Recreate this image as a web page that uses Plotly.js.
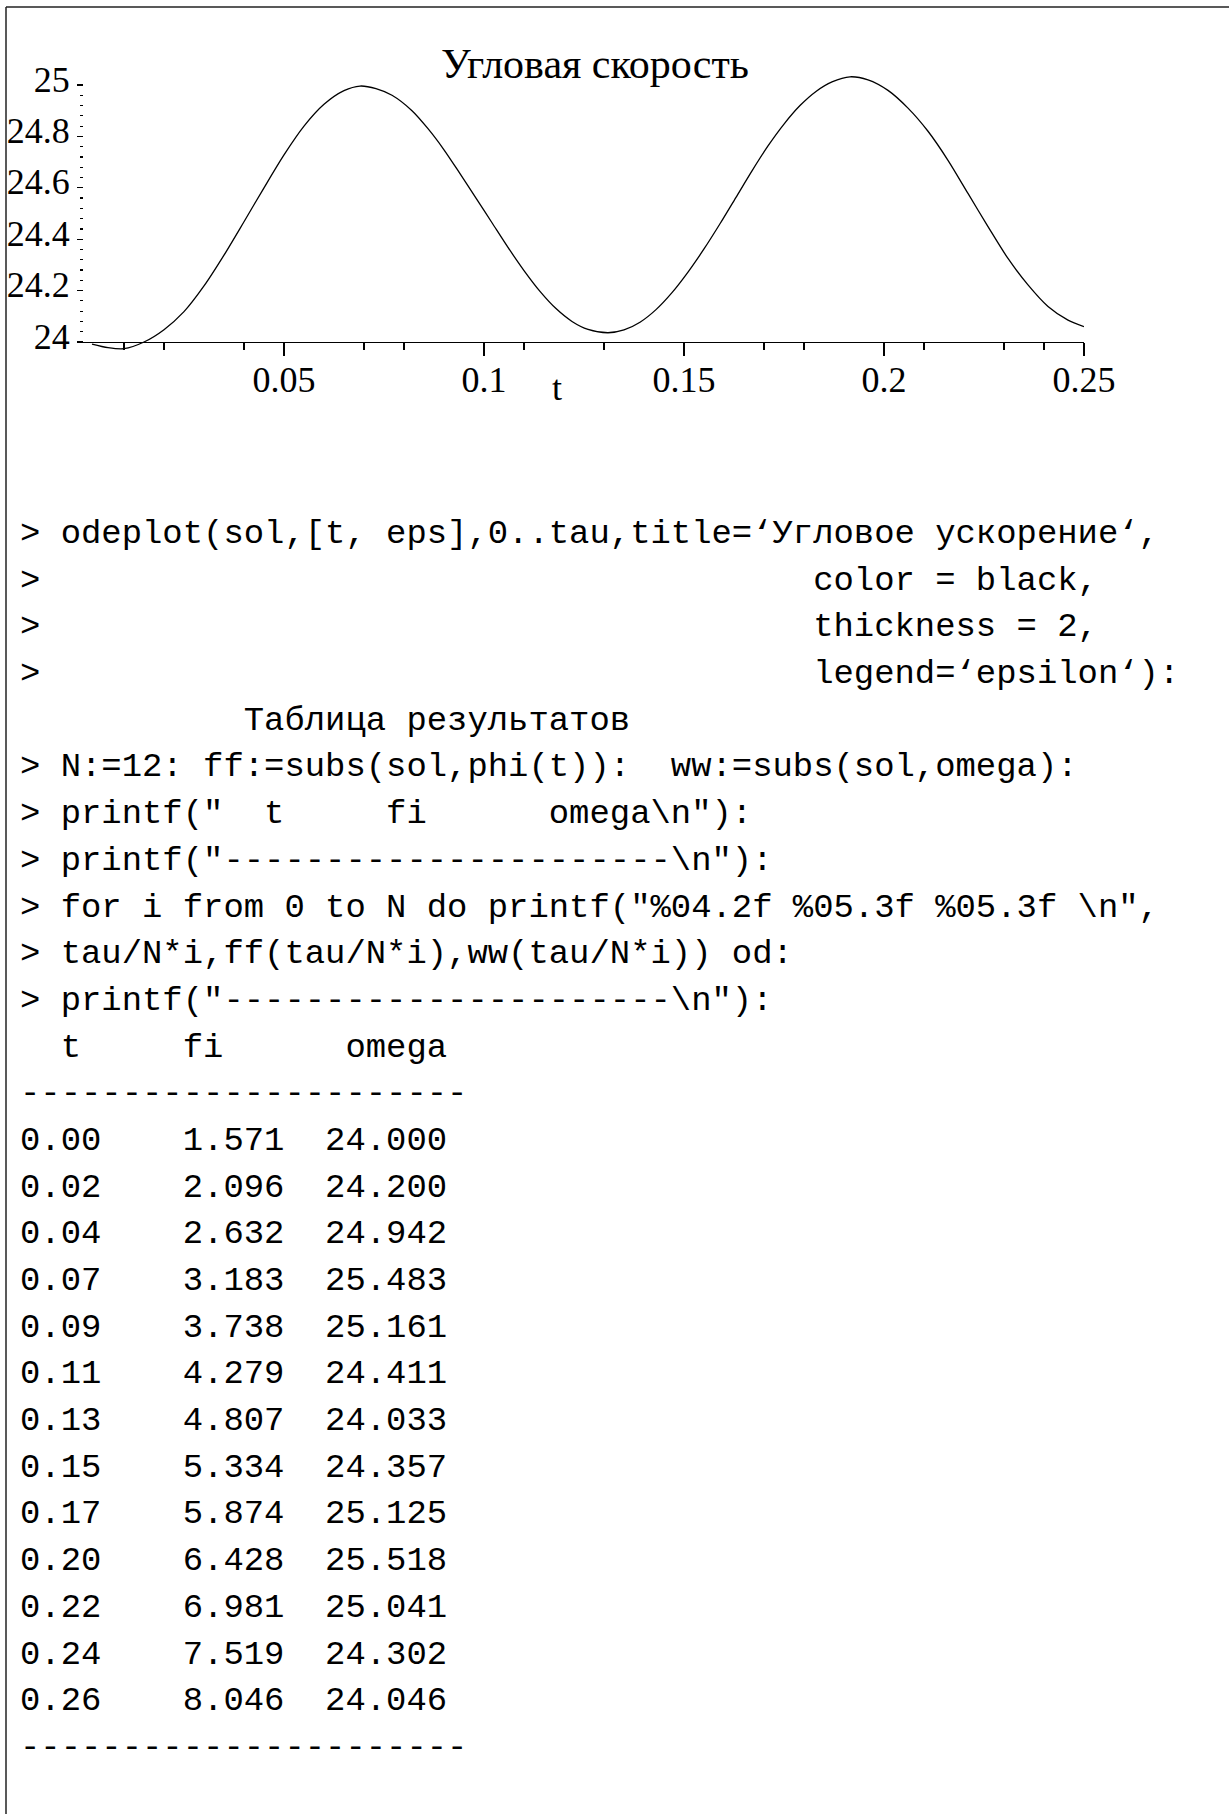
<!DOCTYPE html>
<html>
<head>
<meta charset="utf-8">
<script src="https://cdn.plot.ly/plotly-3.0.1.min.js"></script>
<style>
  html, body { margin: 0; padding: 0; background: #ffffff; }
  #chart { width: 1229px; height: 1814px; }
</style>
</head>
<body>
<div id="chart"></div>
<script>
// ---------- curve data ----------
const tValues = [0.002, 0.006, 0.010, 0.015, 0.020, 0.025, 0.030, 0.035, 0.040, 0.045,
  0.050, 0.055, 0.060, 0.065, 0.069, 0.073, 0.077, 0.082, 0.086, 0.090,
  0.094, 0.098, 0.102, 0.106, 0.110, 0.114, 0.118, 0.122, 0.126, 0.131,
  0.135, 0.139, 0.143, 0.147, 0.151, 0.155, 0.159, 0.163, 0.167, 0.171,
  0.175, 0.179, 0.183, 0.187, 0.1915, 0.196, 0.201, 0.206, 0.211, 0.216,
  0.221, 0.226, 0.231, 0.236, 0.241, 0.246, 0.250];
const omegaValues = [23.992, 23.978, 23.974, 24.000, 24.048, 24.118, 24.218, 24.338, 24.468, 24.600,
  24.728, 24.840, 24.925, 24.978, 24.996, 24.986, 24.960, 24.900, 24.830, 24.748,
  24.655, 24.560, 24.464, 24.368, 24.278, 24.197, 24.130, 24.080, 24.049, 24.036,
  24.047, 24.077, 24.126, 24.192, 24.272, 24.362, 24.460, 24.563, 24.666, 24.763,
  24.848, 24.920, 24.975, 25.012, 25.032, 25.020, 24.979, 24.910, 24.820, 24.707,
  24.578, 24.449, 24.325, 24.222, 24.138, 24.085, 24.060];

// ---------- axis ticks ----------
const xTickVals = [0.05, 0.1, 0.15, 0.2, 0.25];
const xTickText = ['0.05', '0.1', '0.15', '0.2', '0.25'];
const xMinorTicks = [0.01, 0.02, 0.04, 0.07, 0.08, 0.11, 0.13, 0.17, 0.18, 0.21, 0.23, 0.24];
const yTickVals = [24, 24.2, 24.4, 24.6, 24.8, 25];
const yTickText = ['24', '24.2', '24.4', '24.6', '24.8', '25'];

// ---------- worksheet text ----------
const plotTitle = 'Угловая скорость';
const xAxisLabel = 't';
const codeLines = [
  '> odeplot(sol,[t, eps],0..tau,title=‘Угловое ускорение‘,',
  '>                                      color = black,',
  '>                                      thickness = 2,',
  '>                                      legend=‘epsilon‘):',
  '           Таблица результатов',
  '> N:=12: ff:=subs(sol,phi(t)):  ww:=subs(sol,omega):',
  '> printf("  t     fi      omega\\n"):',
  '> printf("----------------------\\n"):',
  '> for i from 0 to N do printf("%04.2f %05.3f %05.3f \\n",',
  '> tau/N*i,ff(tau/N*i),ww(tau/N*i)) od:',
  '> printf("----------------------\\n"):'
];
const tableHeader = '  t     fi      omega';
const tableRule = '----------------------';
const tCol = ['0.00','0.02','0.04','0.07','0.09','0.11','0.13','0.15','0.17','0.20','0.22','0.24','0.26'];
const fiCol = ['1.571','2.096','2.632','3.183','3.738','4.279','4.807','5.334','5.874','6.428','6.981','7.519','8.046'];
const omegaCol = ['24.000','24.200','24.942','25.483','25.161','24.411','24.033','24.357','25.125','25.518','25.041','24.302','24.046'];

// ---------- layout geometry (pixels) ----------
const W = 1229, H = 1814;
const px = v => v / W;
const py = v => 1 - v / H;

const allLines = codeLines.concat([tableHeader, tableRule]);
for (let i = 0; i < tCol.length; i++) {
  allLines.push(tCol[i] + '    ' + fiCol[i] + '  ' + omegaCol[i]);
}
allLines.push(tableRule);

const monoFont = {family: '"Liberation Mono", "Courier New", monospace', size: 33.9, color: '#000000'};
const serifFont = {family: '"Liberation Serif", "Times New Roman", serif', size: 36, color: '#000000'};

const annotations = allLines.map((s, i) => ({
  xref: 'paper', yref: 'paper',
  x: px(18), y: py(534 + i * 46.69),
  xanchor: 'left', yanchor: 'middle',
  text: s.replace(/ /g, '\u00A0'),
  showarrow: false,
  font: monoFont
}));
annotations.push({
  xref: 'paper', yref: 'paper', x: px(557), y: py(388),
  xanchor: 'center', yanchor: 'middle', text: xAxisLabel,
  showarrow: false, font: serifFont
});

const trace = {
  x: tValues, y: omegaValues, type: 'scatter', mode: 'lines',
  line: {color: '#000000', width: 1.3, shape: 'spline', smoothing: 0.8},
  hoverinfo: 'skip', showlegend: false
};

// y minor ticks: dotted axis between 24 and 25 every 0.04
const yMinorTicks = [];
for (let k = 1; k < 25; k++) { if (k % 5 !== 0) yMinorTicks.push(+(24 + k * 0.04).toFixed(2)); }

const x0px = 77, x1px = 1084;
const tAt = p => (p - 84) / 4000;
const yTop = 60, yBot = 360;
const omAt = p => 24 + (342 - p) / 257;

const layout = {
  width: W, height: H,
  margin: {l: 0, r: 0, t: 0, b: 0},
  paper_bgcolor: '#ffffff', plot_bgcolor: '#ffffff',
  showlegend: false,
  title: {
    text: plotTitle, xref: 'paper', yref: 'paper',
    x: px(595), xanchor: 'center', y: py(63), yanchor: 'middle',
    font: {family: '"Liberation Serif", "Times New Roman", serif', size: 42, color: '#000000'}
  },
  xaxis: {
    domain: [px(x0px), px(x1px)],
    range: [tAt(x0px), tAt(x1px)],
    anchor: 'free', position: py(342),
    showline: true, linecolor: '#000000', linewidth: 1.2,
    showgrid: false, zeroline: false,
    ticks: 'outside', ticklen: 13, tickwidth: 1.2, tickcolor: '#000000',
    tickmode: 'array', tickvals: xTickVals, ticktext: xTickText,
    tickfont: serifFont, ticklabelstandoff: -7,
    minor: {tickmode: 'array', tickvals: xMinorTicks, ticks: 'outside', ticklen: 7,
            tickwidth: 1.2, tickcolor: '#000000', showgrid: false}
  },
  yaxis: {
    domain: [py(yBot), py(yTop)],
    range: [omAt(yBot), omAt(yTop)],
    anchor: 'free', position: px(83),
    showline: false, showgrid: false, zeroline: false,
    ticks: 'outside', ticklen: 6, tickwidth: 1.2, tickcolor: '#000000',
    tickmode: 'array', tickvals: yTickVals, ticktext: yTickText,
    tickfont: serifFont, ticklabelshift: -6,
    minor: {tickmode: 'array', tickvals: yMinorTicks, ticks: 'outside', ticklen: 3,
            tickwidth: 1.2, tickcolor: '#000000', showgrid: false}
  },
  annotations: annotations,
  shapes: [
    {type: 'line', xref: 'paper', yref: 'paper', x0: px(6), x1: px(6), y0: 0, y1: py(7),
     line: {color: '#222222', width: 1.5}},
    {type: 'line', xref: 'paper', yref: 'paper', x0: px(6), x1: 1, y0: py(7), y1: py(7),
     line: {color: '#222222', width: 1.5}}
  ]
};

Plotly.newPlot('chart', [trace], layout, {staticPlot: true, displayModeBar: false});
</script>
</body>
</html>
